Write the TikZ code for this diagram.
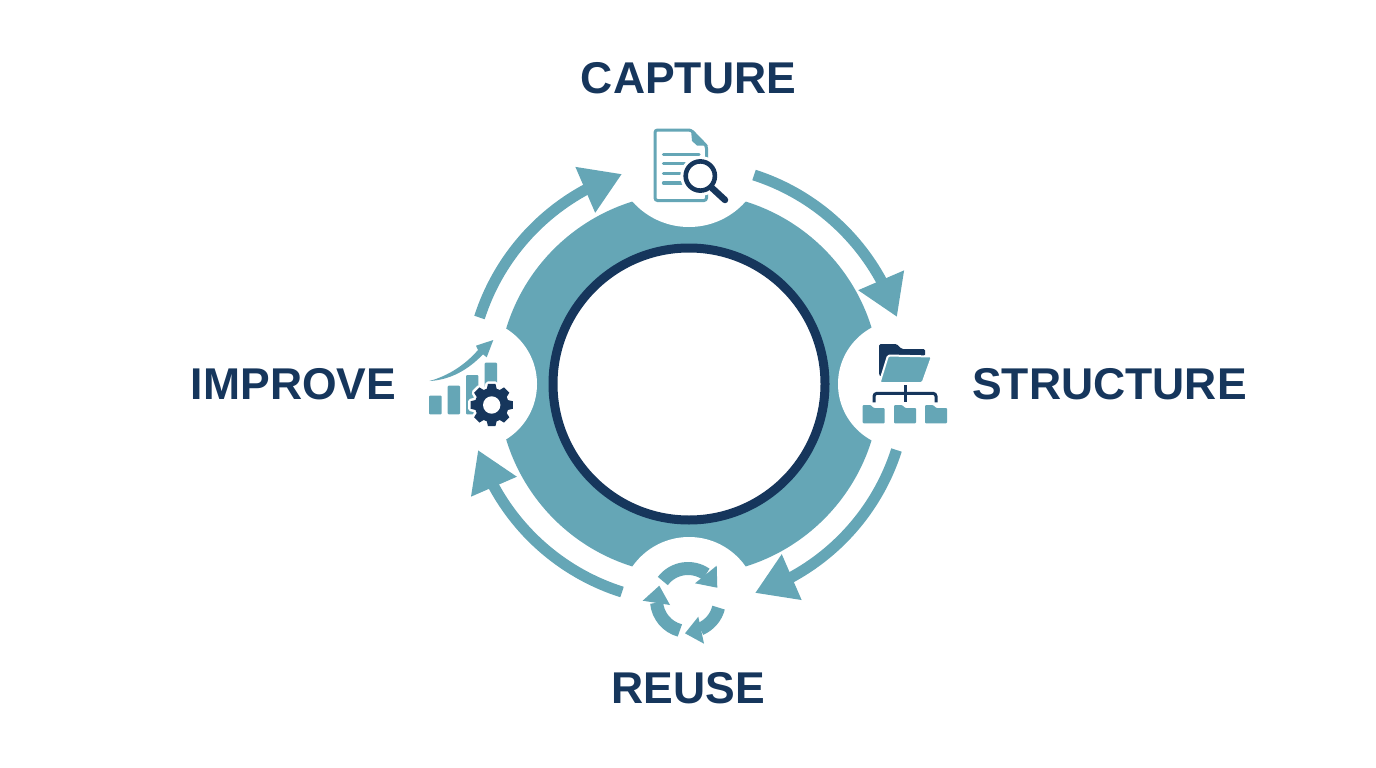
\documentclass[tikz,border=0pt]{standalone}
\usepackage{fontspec}
\setmainfont{Liberation Sans}
\usetikzlibrary{arrows.meta,bending}
\definecolor{cycleteal}{HTML}{65A6B6}
\definecolor{cyclenavy}{HTML}{16365C}
\tikzstyle{steplabel}=[inner sep=0pt, text=cyclenavy, font=\fontsize{44.5}{46}\selectfont\bfseries]
\tikzstyle{slot}=[circle, inner sep=0pt, fill=white]
\tikzstyle{cyclearrow}=[draw=cycleteal, line width=11pt, bend left=27, looseness=0.9, -{Triangle[length=40pt,width=47pt,flex]}]
\tikzstyle{tealbar}=[fill=cycleteal, rounded corners=1pt]
\tikzstyle{gearhalo}=[fill=white, draw=white, line width=5pt, line join=round]
\tikzstyle{gearfill}=[fill=cyclenavy]

\begin{document}
\begin{tikzpicture}[x=1pt,y=-1pt]
        \useasboundingbox (0,0) rectangle (1376,768);
        % wheel
        \node[circle, inner sep=0pt, minimum size=382pt, fill=cycleteal] (wheel) at (689,384) {};
        \node[circle, inner sep=0pt, minimum size=272pt, draw=cyclenavy, line width=9pt, fill=white] (hub) at (689,384) {};
        \node[slot, minimum size=151pt] (captureslot) at (689,151.5) {};
        \node[slot, minimum size=128pt] (structureslot) at (902,384) {};
        \node[slot, minimum size=138pt] (reuseslot) at (689,606) {};
        \node[slot, minimum size=130pt] (improveslot) at (472,384) {};
        %
        \node[steplabel] (capture) at (688.5,78.5) {CAPTURE};
        \node[steplabel] (structure) at (1109.5,384) {STRUCTURE};
        \node[steplabel] (reuse) at (688.5,688.5) {REUSE};
        \node[steplabel] (improve) at (293.5,384) {IMPROVE};
        %
        \coordinate (tail1) at (754,175);
        \coordinate (tip1) at (897,317);
        \coordinate (tail2) at (896.5,450);
        \coordinate (tip2) at (755,593);
        \coordinate (tail3) at (622,592);
        \coordinate (tip3) at (478,450);
        \coordinate (tail4) at (479.5,317.5);
        \coordinate (tip4) at (622,174);
        \path
            (tail1)     edge[cyclearrow]     (tip1)
            (tail2)     edge[cyclearrow]     (tip2)
            (tail3)     edge[cyclearrow]     (tip3)
            (tail4)     edge[cyclearrow]     (tip4)
        ;
        % capture icon
        \draw[cycleteal, line width=3pt, rounded corners=2.5pt] (691,130) -- (655,130) -- (655,200.5) -- (706.5,200.5) -- (706.5,146) -- cycle;
        \fill[cycleteal] (691,130) -- (708,145.5) -- (697,145.5) -- (692,141) -- cycle;
        \foreach \y/\xend in {154.3/699,163.7/685,173.3/681,183/681.7}
            \draw[cycleteal, line width=3.3pt, line cap=round] (663.5,\y) -- (\xend,\y);
        \coordinate (lens) at (700.3,176);
        \fill[white] (lens) circle (20);
        \draw[white, line width=11pt, line cap=round] (712.3,188.3) -- (725,200);
        \draw[cyclenavy, line width=4.6pt] (lens) circle (14.6);
        \draw[cyclenavy, line width=6.5pt, line cap=round] (712.3,188.3) -- (725,200);
        % structure icon
        \fill[cyclenavy, rounded corners=1.5pt] (879,375) -- (879,344) -- (896.7,344) -- (901.7,349) -- (925,349) -- (925,356) -- (888,356) -- (881,377) -- cycle;
        \draw[white, fill=cycleteal, line width=2pt, line join=round, rounded corners=1.5pt] (888,355.5) -- (932,356.5) -- (922.5,383) -- (879.5,383) -- cycle;
        \draw[cyclenavy, line width=3pt, rounded corners=3pt] (874,402.3) -- (874,393.3) -- (936,393.3) -- (936,402.3);
        \draw[cyclenavy, line width=3pt] (905,385) -- (905,402.3);
        \foreach \x in {862.7,894,925}
            \fill[tealbar] (\x,405) -- (\x+8,405) -- (\x+11,408) -- (\x+22,408) -- (\x+22,423.3) -- (\x,423.3) -- cycle;
        % reuse icon
        \coordinate (loop) at (688,600);
        \foreach \from/\to in {217/305,14/67,105/175}
            \draw[cycleteal, line width=13pt] (loop) ++(\from:31.5) arc[start angle=\from, end angle=\to, radius=31.5];
        \fill[cycleteal] (717.3,587.7) -- (716.7,565.7) -- (695,583.3) -- cycle;
        \fill[cycleteal] (685,633.3) -- (698.3,616.7) -- (704,643.7) -- cycle;
        \fill[cycleteal] (659.3,585.7) -- (642.7,600.7) -- (670,605) -- cycle;
        % improve icon
        \fill[tealbar] (429,395.7) rectangle (441.7,414.3);
        \fill[tealbar] (447.7,385.7) rectangle (460,414.3);
        \fill[tealbar] (466,375) rectangle (478.3,414.3);
        \fill[tealbar] (484.7,362.7) rectangle (497,405);
        \fill[cycleteal] (429.3,381) .. controls (448,376) and (465,365) .. (478,350)
            -- (476,345.7) -- (493.3,340) -- (486.7,357.3) -- (483,354.3)
            .. controls (468,370) and (450,380) .. (429.3,381) -- cycle;
        \coordinate (gear) at (491.7,405);
        \foreach \gearstyle in {gearhalo,gearfill}
            \path[\gearstyle] (gear) circle (17)
                \foreach \a in {0,45,...,315}{
                    ([shift={(\a-10:21.5)}]gear) -- ([shift={(\a+10:21.5)}]gear) -- ([shift={(\a+19:16)}]gear) -- ([shift={(\a-19:16)}]gear) -- cycle
                };
        \fill[white] (gear) circle (8.7);
\end{tikzpicture}
\end{document}
